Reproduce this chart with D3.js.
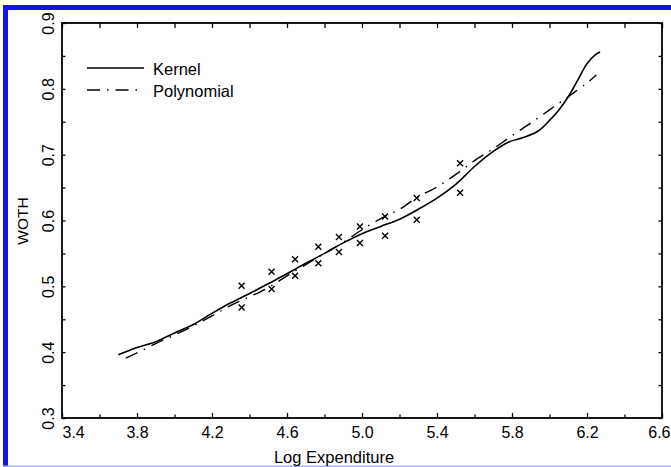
<!DOCTYPE html>
<html>
<head>
<meta charset="utf-8">
<script src="https://cdn.jsdelivr.net/npm/d3@7"></script>
<style>
  html, body { margin: 0; padding: 0; background: #fff; }
  svg { display: block; }
  text { font-family: "Liberation Sans", Arial, Helvetica, sans-serif; fill: #000; }
</style>
</head>
<body>
<svg id="chart" width="671" height="467"></svg>
<script>
// Observed budget shares (WOTH) against log expenditure
const obsLogExp = [4.358, 4.358, 4.518, 4.518, 4.643, 4.643, 4.767, 4.767, 4.877, 4.877,
                   4.989, 4.989, 5.123, 5.123, 5.292, 5.292, 5.523, 5.523];
const obsWoth   = [0.501, 0.468, 0.522, 0.496, 0.541, 0.516, 0.560, 0.535, 0.575, 0.552,
                   0.591, 0.566, 0.606, 0.577, 0.634, 0.601, 0.687, 0.642];

// Kernel regression estimate
const kernelX = [3.70, 3.80, 3.90, 4.00, 4.10, 4.20, 4.30, 4.40, 4.50, 4.60, 4.70, 4.80, 4.90,
                 5.00, 5.10, 5.20, 5.30, 5.40, 5.50, 5.60, 5.70, 5.78, 5.86, 5.94, 6.00, 6.05,
                 6.10, 6.15, 6.20, 6.25, 6.27];
const kernelY = [0.396, 0.407, 0.416, 0.429, 0.442, 0.459, 0.475, 0.489, 0.504, 0.519, 0.535, 0.550, 0.566,
                 0.580, 0.591, 0.602, 0.617, 0.634, 0.655, 0.682, 0.705, 0.719, 0.726, 0.736, 0.752, 0.768,
                 0.788, 0.813, 0.838, 0.853, 0.856];

// Polynomial fit
const polyX = [3.74, 3.80, 3.90, 4.00, 4.10, 4.20, 4.30, 4.40, 4.50, 4.60, 4.70, 4.80, 4.90,
               5.00, 5.10, 5.20, 5.30, 5.40, 5.50, 5.60, 5.70, 5.80, 5.90, 6.00, 6.10, 6.20, 6.25];
const polyY = [0.391, 0.399, 0.413, 0.426, 0.440, 0.455, 0.471, 0.484, 0.498, 0.516, 0.533, 0.550, 0.567,
               0.586, 0.603, 0.617, 0.636, 0.651, 0.670, 0.691, 0.709, 0.729, 0.748, 0.768, 0.788, 0.809, 0.821];

const xMajorTicks = [3.4, 3.8, 4.2, 4.6, 5.0, 5.4, 5.8, 6.2, 6.6];
const xMinorTicks = [3.6, 4.0, 4.4, 4.8, 5.2, 5.6, 6.0, 6.4];
const yMajorTicks = [0.3, 0.4, 0.5, 0.6, 0.7, 0.8, 0.9];
const yMinorTicks = [0.35, 0.45, 0.55, 0.65, 0.75, 0.85];

const legendLabels = ["Kernel", "Polynomial"];
const xTitle = "Log Expenditure";
const yTitle = "WOTH";

const svg = d3.select("#chart");

// Page frame
svg.append("rect").attr("x", 3).attr("y", 5).attr("width", 668).attr("height", 5).attr("fill", "#1414f0");
svg.append("rect").attr("x", 3).attr("y", 5).attr("width", 5).attr("height", 462).attr("fill", "#1414f0");
svg.append("rect").attr("x", 3).attr("y", 465.5).attr("width", 668).attr("height", 1.5).attr("fill", "#aab2ff");

const plotL = 62, plotR = 662, plotT = 23, plotB = 418;
const x = d3.scaleLinear().domain([3.4, 6.6]).range([plotL, plotR]);
const y = d3.scaleLinear().domain([0.3, 0.9]).range([plotB, plotT]);

const fmt = d3.format(".1f");
const axisStroke = 1.8;

function styleAxis(g) {
  g.select(".domain").remove();
  g.selectAll("line").attr("stroke", "#000").attr("stroke-width", 1.3);
}

// Bottom axis: labelled ticks every 0.4, unlabelled in between
const gxb = svg.append("g").attr("transform", `translate(0,${plotB})`)
  .call(d3.axisBottom(x).tickValues(xMajorTicks).tickSizeInner(-5).tickSizeOuter(0).tickPadding(20).tickFormat(fmt));
gxb.call(styleAxis);
const lastX = xMajorTicks.length - 1;
gxb.selectAll("text").attr("font-size", 16).attr("dy", 0).attr("y", 20)
  .attr("text-anchor", (d, i) => i === 0 ? "start" : (i === lastX ? "end" : "middle"))
  .attr("x", (d, i) => i === lastX ? 8 : 0);
svg.append("g").attr("transform", `translate(0,${plotB})`)
  .call(d3.axisBottom(x).tickValues(xMinorTicks).tickSizeInner(-3.5).tickSizeOuter(0).tickFormat(""))
  .call(styleAxis);

// Top axis ticks
svg.append("g").attr("transform", `translate(0,${plotT})`)
  .call(d3.axisTop(x).tickValues(xMajorTicks.concat(xMinorTicks)).tickSizeInner(-5).tickSizeOuter(0).tickFormat(""))
  .call(styleAxis);

// Left axis: rotated labels every 0.1, ticks every 0.05
const gyl = svg.append("g").attr("transform", `translate(${plotL},0)`)
  .call(d3.axisLeft(y).tickValues(yMajorTicks).tickSizeInner(-3.5).tickSizeOuter(0).tickFormat(fmt));
gyl.call(styleAxis);
gyl.selectAll("text").attr("font-size", 16).attr("text-anchor", "middle")
  .attr("dy", 0).attr("x", 0).attr("y", -8).attr("transform", "rotate(-90)");
svg.append("g").attr("transform", `translate(${plotL},0)`)
  .call(d3.axisLeft(y).tickValues(yMinorTicks).tickSizeInner(-3.5).tickSizeOuter(0).tickFormat(""))
  .call(styleAxis);

// Right axis ticks
svg.append("g").attr("transform", `translate(${plotR},0)`)
  .call(d3.axisRight(y).tickValues(yMajorTicks.concat(yMinorTicks)).tickSizeInner(-3.5).tickSizeOuter(0).tickFormat(""))
  .call(styleAxis);

// Plot box
svg.append("rect").attr("x", plotL).attr("y", plotT).attr("width", plotR - plotL).attr("height", plotB - plotT)
  .attr("fill", "none").attr("stroke", "#000").attr("stroke-width", axisStroke);

// Curves
const polyDash = "13,7,1.5,7";
const line = d3.line().x(d => x(d[0])).y(d => y(d[1])).curve(d3.curveCatmullRom);

svg.append("path").datum(d3.zip(polyX, polyY)).attr("d", line)
  .attr("fill", "none").attr("stroke", "#000").attr("stroke-width", 1.4).attr("stroke-dasharray", polyDash);
svg.append("path").datum(d3.zip(kernelX, kernelY)).attr("d", line)
  .attr("fill", "none").attr("stroke", "#000").attr("stroke-width", 1.6);

// Observations drawn as crosses
const cross = "M-3,-3L3,3M-3,3L3,-3";
svg.append("g").selectAll("path").data(d3.zip(obsLogExp, obsWoth)).join("path")
  .attr("transform", d => `translate(${x(d[0])},${y(d[1])})`)
  .attr("d", cross).attr("fill", "none").attr("stroke", "#000").attr("stroke-width", 1.4);

// Legend
const legend = svg.append("g");
[0, 1].forEach(i => {
  const ly = 68 + i * 22;
  legend.append("line").attr("x1", 87).attr("x2", 144).attr("y1", ly).attr("y2", ly)
    .attr("stroke", "#000").attr("stroke-width", 1.4)
    .attr("stroke-dasharray", i === 1 ? polyDash : null);
  legend.append("text").attr("x", 153).attr("y", ly + 6.5).attr("font-size", 16.5).text(legendLabels[i]);
});

// Axis titles
svg.append("text").attr("x", 334).attr("y", 463).attr("text-anchor", "middle")
  .attr("font-size", 16.5).text(xTitle);
svg.append("text").attr("transform", "translate(28,221) rotate(-90)").attr("text-anchor", "middle")
  .attr("font-size", 15.5).text(yTitle);
</script>
</body>
</html>
